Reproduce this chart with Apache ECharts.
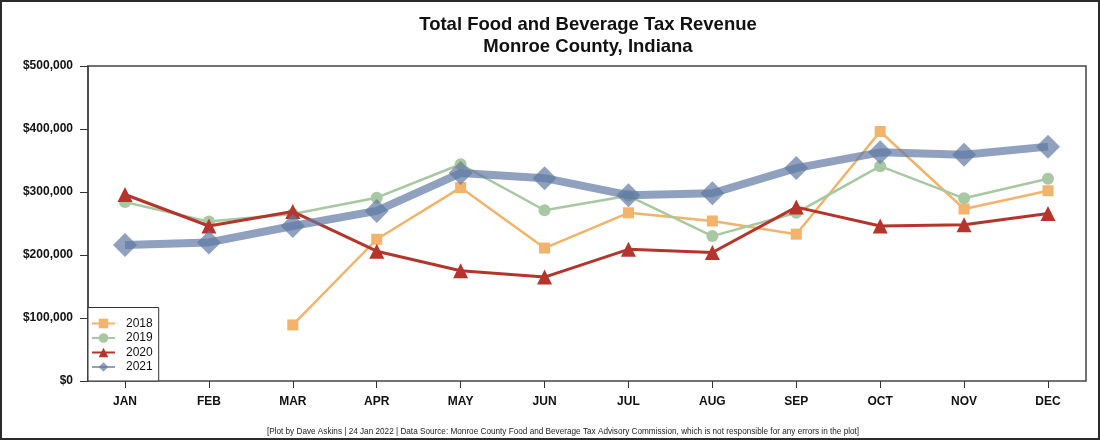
<!DOCTYPE html>
<html>
<head>
<meta charset="utf-8">
<script src="https://cdn.jsdelivr.net/npm/echarts@6/dist/echarts.min.js"></script>
<style>
html,body{margin:0;padding:0;background:#fff;}
#wrap{position:relative;width:1100px;height:440px;}
#c{position:absolute;left:0;top:0;width:1100px;height:440px;}
#frame{position:absolute;left:0;top:0;width:1100px;height:440px;box-sizing:border-box;border:2px solid #2b2b2b;pointer-events:none;}
</style>
</head>
<body>
<div id="wrap"><div id="c"></div><div id="frame"></div></div>
<script>
const months = ['JAN','FEB','MAR','APR','MAY','JUN','JUL','AUG','SEP','OCT','NOV','DEC'];
const rev2018 = [null, null, 89000, 225000, 307000, 211000, 267000, 254000, 233000, 396000, 273000, 302000];
const rev2019 = [284000, 253000, 265000, 291000, 344000, 271000, 294000, 230000, 267000, 341000, 290000, 321000];
const rev2020 = [296000, 246000, 269000, 206000, 175000, 165000, 209000, 204000, 276000, 246000, 248000, 266000];
const rev2021 = [216000, 220000, 246000, 270000, 330000, 322000, 295000, 298000, 338000, 363000, 359000, 372000];
const yTicks = [0, 100000, 200000, 300000, 400000, 500000];

const FONT = 'Liberation Sans';
const chart = echarts.init(document.getElementById('c'), null, {renderer: 'canvas'});

function fmt(v){ return '$' + v.toString().replace(/\B(?=(\d{3})+(?!\d))/g, ','); }

chart.setOption({
  animation: false,
  backgroundColor: '#fff',
  title: [
    {
      text: 'Total Food and Beverage Tax Revenue\nMonroe County, Indiana',
      left: 583, top: 9, textAlign: 'center',
      textStyle: {fontFamily: FONT, fontSize: 18.5, fontWeight: 'bold', color: '#111', lineHeight: 22}
    },
    {
      text: '[Plot by Dave Askins | 24 Jan 2022 | Data Source: Monroe County Food and Beverage Tax Advisory Commission, which is not responsible for any errors in the plot]',
      left: 558, top: 423, textAlign: 'center',
      textStyle: {fontFamily: FONT, fontSize: 8.2, fontWeight: 'normal', color: '#222'}
    }
  ],
  grid: [
    {left: 125, right: 52, top: 66, bottom: 59},
    {left: 88, right: 14, top: 66, bottom: 59, show: true, borderColor: '#444', borderWidth: 1.5, backgroundColor: 'transparent'}
  ],
  xAxis: [
    {
      gridIndex: 0, type: 'category', data: months, boundaryGap: false,
      axisLine: {show: false},
      axisTick: {show: true, inside: false, length: 7, alignWithLabel: true, lineStyle: {color: '#333', width: 1}},
      axisLabel: {margin: 15, fontFamily: FONT, fontSize: 12, fontWeight: 'bold', color: '#111'},
      splitLine: {show: false}
    },
    {gridIndex: 1, type: 'value', min: 0, max: 1, show: false}
  ],
  yAxis: [
    {gridIndex: 0, type: 'value', min: 0, max: 500000, interval: 100000, show: false},
    {
      gridIndex: 1, type: 'value', min: 0, max: 500000, interval: 100000,
      axisLine: {show: true, lineStyle: {color: '#444', width: 1.5}},
      axisTick: {show: true, inside: false, length: 8, lineStyle: {color: '#333', width: 1}},
      axisLabel: {margin: 15, fontFamily: FONT, fontSize: 12, fontWeight: 'bold', color: '#111',
        formatter: function(v){ return yTicks.indexOf(v) >= 0 ? fmt(v) : ''; }},
      splitLine: {show: false}
    }
  ],
  legend: {
    orient: 'vertical', left: 88, bottom: 59,
    backgroundColor: '#fff', borderColor: '#333', borderWidth: 1,
    padding: [10, 6, 8, 3],
    itemWidth: 23, itemHeight: 12, itemGap: 2.5,
    lineStyle: {width: 2},
    textStyle: {fontFamily: FONT, fontSize: 12, color: '#111', padding: [0, 0, 0, 6]},
    data: ['2018', '2019', '2020', '2021']
  },
  series: [
    {
      name: '2018', type: 'line', xAxisIndex: 0, yAxisIndex: 0, data: rev2018,
      symbol: 'rect', symbolSize: 11, showSymbol: true,
      lineStyle: {color: '#F2B36A', width: 2.5},
      itemStyle: {color: '#F2B36A'}, z: 2
    },
    {
      name: '2019', type: 'line', xAxisIndex: 0, yAxisIndex: 0, data: rev2019,
      symbol: 'circle', symbolSize: 12, showSymbol: true,
      lineStyle: {color: '#A8C8A2', width: 2.5},
      itemStyle: {color: '#A8C8A2'}, z: 3
    },
    {
      name: '2020', type: 'line', xAxisIndex: 0, yAxisIndex: 0, data: rev2020,
      symbol: 'triangle', symbolSize: 15, showSymbol: true,
      lineStyle: {color: '#B7342C', width: 3},
      itemStyle: {color: '#B7342C'}, z: 4
    },
    {
      name: '2021', type: 'line', xAxisIndex: 0, yAxisIndex: 0, data: rev2021,
      symbol: 'diamond', symbolSize: 24, showSymbol: true,
      lineStyle: {color: '#6079A3', width: 8, opacity: 0.7},
      itemStyle: {color: '#6079A3', opacity: 0.7}, z: 5
    }
  ]
});
</script>
</body>
</html>
